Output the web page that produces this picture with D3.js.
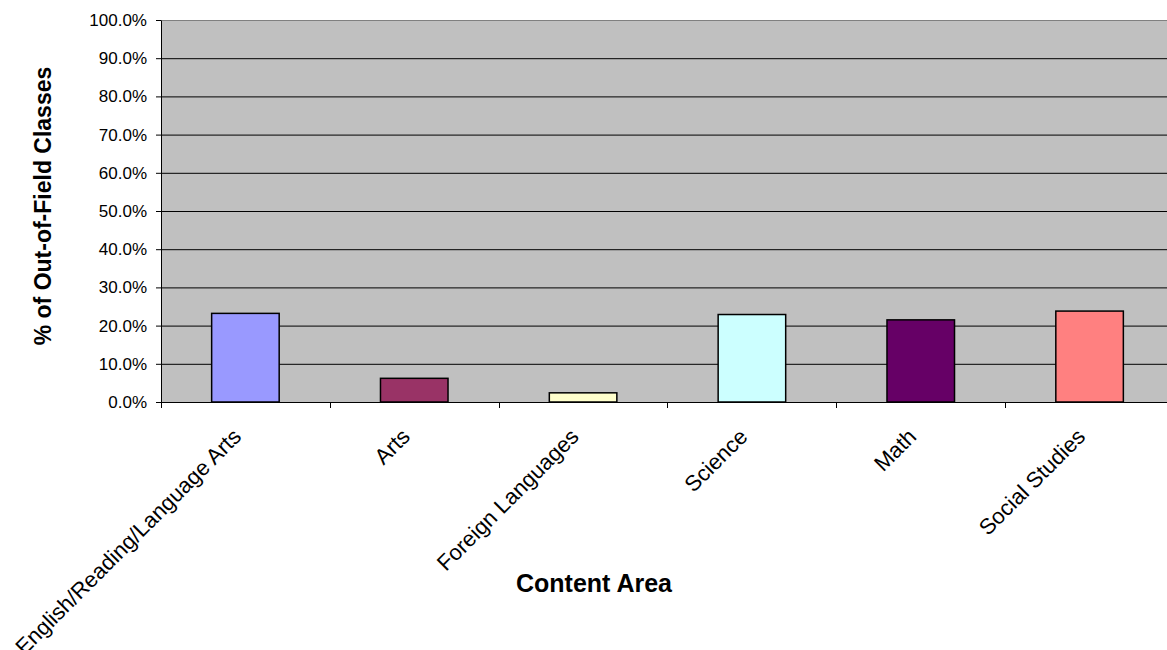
<!DOCTYPE html>
<html>
  <head>
    <meta charset="utf-8">
    <title></title>
  </head>
  <style>
    body {
      margin: 0;
      background-color: #fff;
      font-family: Arial, "Liberation Sans", sans-serif;
    }
    text { font-family: Arial, "Liberation Sans", sans-serif }
    .grid line { stroke: #000; stroke-width: 1 }
    .grid path { display: none }
    .yaxis path, .yaxis line { stroke: #000 }
    .yaxis text { font-size: 17px; fill: #000 }
    .xlab { font-size: 22px; fill: #000 }
    .title { font-weight: bold; fill: #000 }
  </style>
  <script src="https://d3js.org/d3.v7.min.js"></script>
  <body>
    <script>
    const categories = ["English/Reading/Language Arts", "Arts", "Foreign Languages", "Science", "Math", "Social Studies"]
    const values = [23.2, 6.2, 2.4, 22.9, 21.5, 23.8]
    const colors = ["#9999ff", "#993366", "#ffffcc", "#ccffff", "#660066", "#ff8080"]
    const yTicks = [0, 10, 20, 30, 40, 50, 60, 70, 80, 90, 100]

    var W = 1167, H = 650
    var plot = { left: 161, top: 20, right: 1174, bottom: 402 }

    var svg = d3.select("body").append("svg")
                .attr("width", W)
                .attr("height", H)

    // scales
    var xScale = d3.scaleBand()
                   .domain(categories)
                   .range([plot.left, plot.right])
                   .paddingInner(0.6)
                   .paddingOuter(0.3)

    var yScale = d3.scaleLinear()
                   .domain([0, 100])
                   .range([plot.bottom, plot.top])

    // plot background
    svg.append("rect")
       .attr("x", plot.left)
       .attr("y", plot.top)
       .attr("width", plot.right - plot.left)
       .attr("height", plot.bottom - plot.top)
       .attr("fill", "#c0c0c0")

    // gridlines
    svg.append("g")
       .attr("class", "grid")
       .attr("transform", "translate(" + plot.left + ",0)")
       .call(d3.axisRight(yScale).tickValues(yTicks.slice(1, -1))
               .tickSize(plot.right - plot.left).tickFormat(""))

    // top border
    svg.append("line")
       .attr("x1", plot.left).attr("x2", plot.right)
       .attr("y1", plot.top + 0.5).attr("y2", plot.top + 0.5)
       .attr("stroke", "#808080")

    // bars
    svg.append("g").selectAll("rect")
       .data(values)
       .enter()
       .append("rect")
       .attr("x", function(d, i){ return xScale(categories[i]) })
       .attr("y", function(d){ return yScale(d) })
       .attr("width", xScale.bandwidth())
       .attr("height", function(d){ return plot.bottom - yScale(d) })
       .attr("fill", function(d, i){ return colors[i] })
       .attr("stroke", "#000")
       .attr("stroke-width", 1.5)

    // y axis
    svg.append("g")
       .attr("class", "yaxis")
       .attr("transform", "translate(" + plot.left + ",0)")
       .call(d3.axisLeft(yScale).tickValues(yTicks).tickSize(5).tickSizeOuter(0).tickPadding(9)
               .tickFormat(function(d){ return d.toFixed(1) + "%" }))

    // x axis line + ticks at category boundaries
    svg.append("line")
       .attr("x1", plot.left).attr("x2", plot.right)
       .attr("y1", plot.bottom + 0.5).attr("y2", plot.bottom + 0.5)
       .attr("stroke", "#000")

    var step = xScale.step()
    svg.append("g").selectAll("line")
       .data(categories)
       .enter()
       .append("line")
       .attr("x1", function(d){ return Math.round(xScale(d) - step * 0.3) + 0.5 })
       .attr("x2", function(d){ return Math.round(xScale(d) - step * 0.3) + 0.5 })
       .attr("y1", plot.bottom)
       .attr("y2", plot.bottom + 6)
       .attr("stroke", "#000")

    // rotated category labels
    svg.append("g").selectAll("text")
       .data(categories)
       .enter()
       .append("text")
       .attr("class", "xlab")
       .attr("text-anchor", "end")
       .attr("transform", function(d){
           var cx = xScale(d) + xScale.bandwidth() / 2
           return "translate(" + (cx - 3) + "," + (plot.bottom + 36) + ") rotate(-45)"
       })
       .text(function(d){ return d })

    // axis titles
    svg.append("text")
       .attr("class", "title")
       .attr("text-anchor", "middle")
       .attr("x", 594)
       .attr("y", 592)
       .style("font-size", "25px")
       .text("Content Area")

    svg.append("text")
       .attr("class", "title")
       .attr("text-anchor", "middle")
       .attr("transform", "translate(51,206) rotate(-90)")
       .style("font-size", "23px")
       .text("% of Out-of-Field Classes")
    </script>
  </body>
</html>
